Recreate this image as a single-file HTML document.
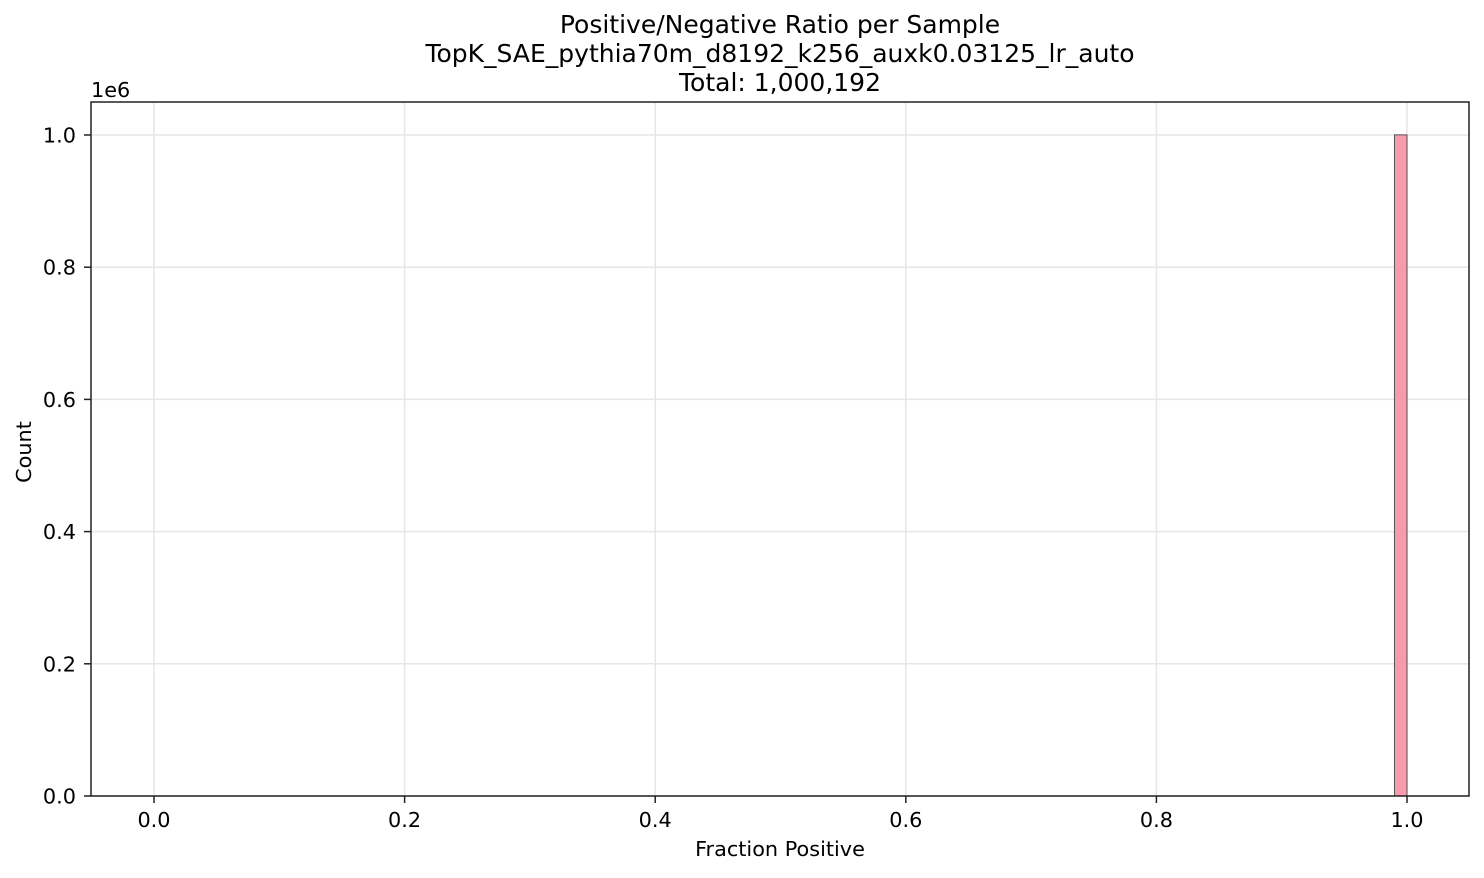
<!DOCTYPE html>
<html><head><meta charset="utf-8"><style>
body{margin:0;background:#fff;font-family:"DejaVu Sans","Liberation Sans",sans-serif}
text{font-family:"DejaVu Sans","Liberation Sans",sans-serif}
</style></head><body>
<svg id="chart" width="1484" height="874" xmlns="http://www.w3.org/2000/svg">
<g style="font-size:25px" text-anchor="middle" fill="#000">
<text x="780" y="33">Positive/Negative Ratio per Sample</text>
<text x="780" y="62">TopK_SAE_pythia70m_d8192_k256_auxk0.03125_lr_auto</text>
<text x="780" y="91">Total: 1,000,192</text>
</g>
<g id="grid"></g>
<g id="bars"></g>
<rect x="91" y="102" width="1378" height="694" fill="none" stroke="#222" stroke-width="1.5"/>
<g id="xticks"></g>
<g id="yticks"></g>
<text x="91" y="97" style="font-size:20.8px">1e6</text>
<text x="780" y="856" style="font-size:20.8px" text-anchor="middle">Fraction Positive</text>
<text transform="translate(31,452) rotate(-90)" style="font-size:20.8px" text-anchor="middle">Count</text>
</svg>
<script>
const binStarts=[0.99];
const binWidth=0.01;
const counts=[1000192];
const xTicks=[0,0.2,0.4,0.6,0.8,1.0];
const yTicks=[0,0.2e6,0.4e6,0.6e6,0.8e6,1.0e6];
const xTickLabels=["0.0","0.2","0.4","0.6","0.8","1.0"];
const yTickLabels=["0.0","0.2","0.4","0.6","0.8","1.0"];
const NS="http://www.w3.org/2000/svg";
const X=v=>154+v*1253;
const Y=v=>796-v/1e6*661;
function mk(t,a,p){const e=document.createElementNS(NS,t);for(const k in a)e.setAttribute(k,a[k]);p.appendChild(e);return e;}
const grid=document.getElementById('grid'),bars=document.getElementById('bars'),xt=document.getElementById('xticks'),yt=document.getElementById('yticks');
xTicks.forEach((v,i)=>{
 const g=mk('line',{x1:X(v),x2:X(v),y1:102,y2:796,stroke:'#e6e6e6','stroke-width':1.5},grid);
 
 
 const t=mk('line',{x1:X(v),x2:X(v),y1:796,y2:803,stroke:'#222','stroke-width':1.5},xt);
 
 
 const l=mk('text',{x:X(v),y:827,style:'font-size:20.8px','text-anchor':'middle'},xt);l.textContent=xTickLabels[i];
 
 
});
yTicks.forEach((v,i)=>{
 const g=mk('line',{x1:91,x2:1469,y1:Y(v),y2:Y(v),stroke:'#e6e6e6','stroke-width':1.5},grid);
 
 
 const t=mk('line',{x1:84,x2:91,y1:Y(v),y2:Y(v),stroke:'#222','stroke-width':1.5},yt);
 
 
 const l=mk('text',{x:76,y:Y(v)+7.5,style:'font-size:20.8px','text-anchor':'end'},yt);l.textContent=yTickLabels[i];
 
 
});
binStarts.forEach((b,i)=>{
 const r=mk('rect',{x:X(b),y:Y(counts[i]),width:X(b+binWidth)-X(b),height:Y(0)-Y(counts[i]),fill:'#f79aab',stroke:'#555','stroke-width':1},bars);
 
 
});
</script>
</body></html>
